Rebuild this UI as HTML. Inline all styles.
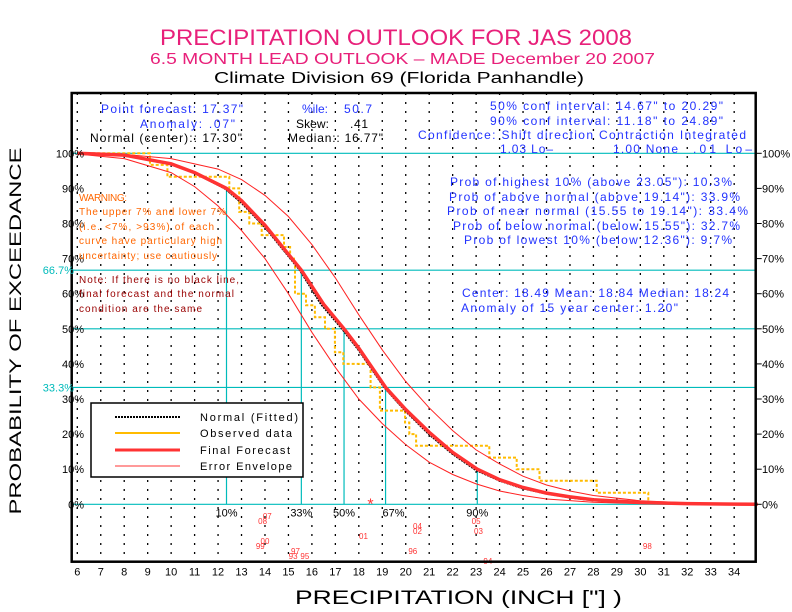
<!DOCTYPE html>
<html><head><meta charset="utf-8"><style>
body{margin:0;background:#fff;}
svg{display:block;font-family:"Liberation Sans",sans-serif;}
</style></head><body>
<svg id="c" width="792" height="612" viewBox="0 0 792 612">
<text x="160" y="45" textLength="472" lengthAdjust="spacingAndGlyphs" font-size="22" fill="#e8207a">PRECIPITATION OUTLOOK FOR JAS 2008</text>
<text x="150" y="64" textLength="505" lengthAdjust="spacingAndGlyphs" font-size="16" fill="#e8207a">6.5 MONTH LEAD OUTLOOK  – MADE December 20 2007</text>
<text x="214" y="83" textLength="370" lengthAdjust="spacingAndGlyphs" font-size="16" fill="#000">Climate Division 69 (Florida Panhandle)</text>
<text transform="translate(21,331) rotate(-90)" text-anchor="middle" font-size="17" textLength="367" lengthAdjust="spacingAndGlyphs">PROBABILITY OF EXCEEDANCE</text>
<text x="295" y="604" textLength="327" lengthAdjust="spacingAndGlyphs" font-size="19">PRECIPITATION (INCH ["] )</text>
<g id="grid"></g><g id="marks"></g><g id="labels"></g>
<g font-size="12" fill="#2233ff">
<text x="101" y="113" textLength="142" lengthAdjust="spacing">Point forecast: 17.37"</text>
<text x="140" y="128" textLength="95" lengthAdjust="spacing">Anomaly:  .07"</text>
<text x="302" y="113" textLength="26" lengthAdjust="spacing">%ile:</text><text x="344" y="113" textLength="28" lengthAdjust="spacing">50.7</text>
<text x="490" y="110" textLength="233" lengthAdjust="spacing">50% conf interval: 14.67" to 20.29"</text>
<text x="490" y="125" textLength="233" lengthAdjust="spacing">90% conf interval: 11.18" to 24.89"</text>
<text x="418" y="139" textLength="328" lengthAdjust="spacing">Confidence: Shift direction  Contraction  Integrated</text>
<text x="500" y="153" textLength="53" lengthAdjust="spacing">1.03 Lo–</text><text x="613" y="153" textLength="65" lengthAdjust="spacing">1.00 None</text><text x="693" y="153" textLength="59" lengthAdjust="spacing">.01 Lo–</text>
<text x="450" y="186" textLength="282" lengthAdjust="spacing">Prob of highest 10% (above 23.05"): 10.3%</text>
<text x="449" y="201" textLength="291" lengthAdjust="spacing">Prob of above normal (above 19.14"): 33.9%</text>
<text x="447" y="215" textLength="301" lengthAdjust="spacing">Prob of near normal (15.55 to 19.14"): 33.4%</text>
<text x="453" y="230" textLength="287" lengthAdjust="spacing">Prob of below normal (below 15.55"): 32.7%</text>
<text x="464" y="244" textLength="268" lengthAdjust="spacing">Prob of lowest 10% (below 12.36"): 9.7%</text>
<text x="462" y="297" textLength="267" lengthAdjust="spacing">Center: 18.49 Mean: 18.84 Median: 18.24</text>
<text x="461" y="312" textLength="217" lengthAdjust="spacing">Anomaly of 15 year center: 1.20"</text>
</g>
<g font-size="12" fill="#000">
<text x="90" y="142" textLength="152" lengthAdjust="spacing">Normal (center):: 17.30"</text>
<text x="296" y="128" textLength="33" lengthAdjust="spacing">Skew:</text><text x="350" y="128" textLength="18" lengthAdjust="spacing">.41</text>
<text x="288" y="142" textLength="95" lengthAdjust="spacing">Median:: 16.77"</text>
</g>
<g font-size="10" fill="#ff6600">
<text x="79" y="201" textLength="48" lengthAdjust="spacing">WARNING:</text>
<text x="79" y="215" textLength="147" lengthAdjust="spacing">The upper 7% and lower 7%</text>
<text x="79" y="230" textLength="135" lengthAdjust="spacing">(i.e. &lt;7%, &gt;93%) of each</text>
<text x="79" y="244" textLength="143" lengthAdjust="spacing">curve have particulary high</text>
<text x="79" y="259" textLength="138" lengthAdjust="spacing">uncertainty; use cautiously</text>
</g>
<g font-size="10" fill="#990000">
<text x="79" y="283" textLength="160" lengthAdjust="spacing">Note: If there is no black line,</text>
<text x="79" y="297" textLength="155" lengthAdjust="spacing">final forecast and the normal</text>
<text x="79" y="312" textLength="123" lengthAdjust="spacing">condition are the same</text>
</g>
<g>
<rect x="91" y="403" width="212" height="74" fill="#fff" stroke="#000" stroke-width="1.5"/>
<line x1="115" y1="417" x2="180" y2="417" stroke="#000" stroke-width="2" stroke-dasharray="2,1"/>
<text x="200" y="421" font-size="11" textLength="98" lengthAdjust="spacing">Normal (Fitted)</text>
<line x1="115" y1="433" x2="180" y2="433" stroke="#ffbb00" stroke-width="2"/>
<text x="200" y="437" font-size="11" textLength="92" lengthAdjust="spacing">Observed data</text>
<line x1="115" y1="450" x2="180" y2="450" stroke="#ff3333" stroke-width="3"/>
<text x="200" y="454" font-size="11" textLength="90" lengthAdjust="spacing">Final Forecast</text>
<line x1="115" y1="466" x2="180" y2="466" stroke="#ff3333" stroke-width="1"/>
<text x="200" y="470" font-size="11" textLength="92" lengthAdjust="spacing">Error Envelope</text>
</g>
</svg>
<script>
const xTicks=[6,7,8,9,10,11,12,13,14,15,16,17,18,19,20,21,22,23,24,25,26,27,28,29,30,31,32,33,34];
const yTicks=[0,10,20,30,40,50,60,70,80,90,100];
const fcX=[6,8,10,11,12.36,13,14,15.55,16.5,17.37,18,19.14,20,21,22,23.05,24,25,26,27,28,30,32,34,35];
const fcP=[100,99.5,97,94.5,90,86.5,79.5,66.7,57,50,44.5,33.3,27,20.5,14.8,10,7,4.8,3.2,2.1,1.3,0.5,0.2,0.05,0];
const nmX=[6,8,10,11,12.3,13,14,15.5,16.4,17.3,18,19.1,20,21,22,23,24,25,26,27,28,30,32,34,35];
const nmP=[100,99.5,97,94.5,90,86,79,66.7,57,50,44,33.3,26.6,20,14.4,9.8,6.8,4.6,3.1,2,1.2,0.5,0.2,0.05,0];
const upX=[6,8,10,12,13,14,15,16,17,18,19,20,21,22,23,24,25,26,27,28,30,32,34,35];
const upP=[100,99.7,98.5,95.5,92.5,88,82,74,64.5,54,44,35,27.5,21,15.5,11.5,8,5.5,3.8,2.5,1,0.4,0.1,0];
const loX=[6,8,10,11,12,13,14,15,16,17,18,19,20,21,22,23,24,25,26,28,30,34,35];
const loP=[99.8,98.5,94.5,90.5,85,78,70,60,49,39,30,23,17,12,8.5,5.8,3.8,2.5,1.5,0.6,0.2,0,0];
const obsEdges=[9.1,9.84,12.48,12.9,13.33,13.86,14.81,15.07,15.28,15.75,16.13,16.56,16.98,17.34,18.5,18.9,19.97,20.15,20.44,23.56,24.73,25.7,28.14,30.34];
const obsLevels=[96.7,93.3,90,83.3,80,76.7,73.3,70,60,56.7,53.3,50,43.3,40,33.3,26.7,23.3,20,16.7,13.3,10,6.7,3.3,0];
const pctValues=[12.36,15.55,17.37,19.14,23.05];
const pctProbs=[90,66.7,50,33.3,10];
const pctNames=["10%","33%","50%","67%","90%"];
const yearLabels=["07","08","04","02","05","03","01","00","99","97","93","95","96","94","98"];
const yearX=[14.1,13.9,20.5,20.5,23.0,23.1,18.2,14.0,13.8,15.3,15.2,15.7,20.3,23.5,30.3];
const yearRow=[0,1,2,3,1,3,4,5,6,7,8,8,7,9,6];

const L=71.7,R=755.7,T=93,B=561.7;
const X=v=>77.3+(v-6)*23.46;
const Y=p=>504.3-p*3.51;
const NS='http://www.w3.org/2000/svg';
function mk(tag,attrs,parent,text){const e=document.createElementNS(NS,tag);for(const k in attrs)e.setAttribute(k,attrs[k]);if(text!==undefined)e.textContent=text;parent.appendChild(e);return e;}
const grid=document.getElementById('grid'),marks=document.getElementById('marks'),lab=document.getElementById('labels');
xTicks.forEach(v=>{
 const l=mk('line',{x1:X(v),x2:X(v),y1:T,y2:B,stroke:'#000','stroke-width':1.3,'stroke-dasharray':'2,7'},grid);
 
 
 const t=mk('text',{x:X(v),y:B+14,'text-anchor':'middle','font-size':11},lab,String(v));
 
 
});
[100,66.7,50,33.3,0].forEach(p=>{
 const l=mk('line',{x1:L,x2:R,y1:Y(p),y2:Y(p),stroke:'#00bbbb','stroke-width':1.2},grid);
 
 
});
yTicks.forEach(p=>{
 const t=mk('text',{x:84,y:Y(p)+4,'text-anchor':'end','font-size':11},lab,p+'%');
 
 
 const t2=mk('text',{x:762,y:Y(p)+4,'font-size':11},lab,p+'%');
 
 
 const k=mk('line',{x1:R,x2:R+6,y1:Y(p),y2:Y(p),stroke:'#000'},lab);
 
 
});
[66.7,33.3].forEach(p=>{
 const t=mk('text',{x:74,y:Y(p)+4,'text-anchor':'end','font-size':11,fill:'#00bbbb'},lab,p.toFixed(1)+'%');
 
 
});
pctValues.forEach((v,i)=>{
 const l=mk('line',{x1:X(v),x2:X(v),y1:Y(pctProbs[i]),y2:Y(0),stroke:'#00bbbb','stroke-width':1.2},marks);
 
 
 const t=mk('text',{x:X(v)+(i==3?8:0),y:Y(0)+12,'text-anchor':'middle','font-size':11},lab,pctNames[i]);
 
 
});
function pts(xs,ps){return xs.map((x,i)=>X(x).toFixed(1)+','+Y(ps[i]).toFixed(1)).join(' ');}
let s='M'+X(6)+','+Y(100);
obsEdges.forEach((e,i)=>{s+=' H'+X(e).toFixed(1)+' V'+Y(obsLevels[i]).toFixed(1);});
const ob=mk('path',{d:s,fill:'none',stroke:'#ffbb00','stroke-width':2,'stroke-dasharray':'3,2'},marks);


const up=mk('polyline',{points:pts(upX,upP),fill:'none',stroke:'#ff2222','stroke-width':1},marks);


const lo=mk('polyline',{points:pts(loX,loP),fill:'none',stroke:'#ff2222','stroke-width':1},marks);


const nm=mk('polyline',{points:pts(nmX,nmP),fill:'none',stroke:'#000','stroke-width':2.5,'stroke-dasharray':'2,1'},marks);


const fc=mk('polyline',{points:pts(fcX,fcP),fill:'none',stroke:'#ff3333','stroke-width':3.5},marks);


const st=mk('text',{x:X(18.5),y:Y(0)+5,'text-anchor':'middle','font-size':16,fill:'#ff3333'},marks,'*');


yearLabels.forEach((y,i)=>{
 const t=mk('text',{x:X(yearX[i]),y:519+yearRow[i]*5,'text-anchor':'middle','font-size':8,fill:'#ff3333'},marks,y);
 
 
});
const fr=mk('rect',{x:L,y:T,width:R-L,height:B-T,fill:'none',stroke:'#000','stroke-width':2.5},marks);


</script>
</body></html>
